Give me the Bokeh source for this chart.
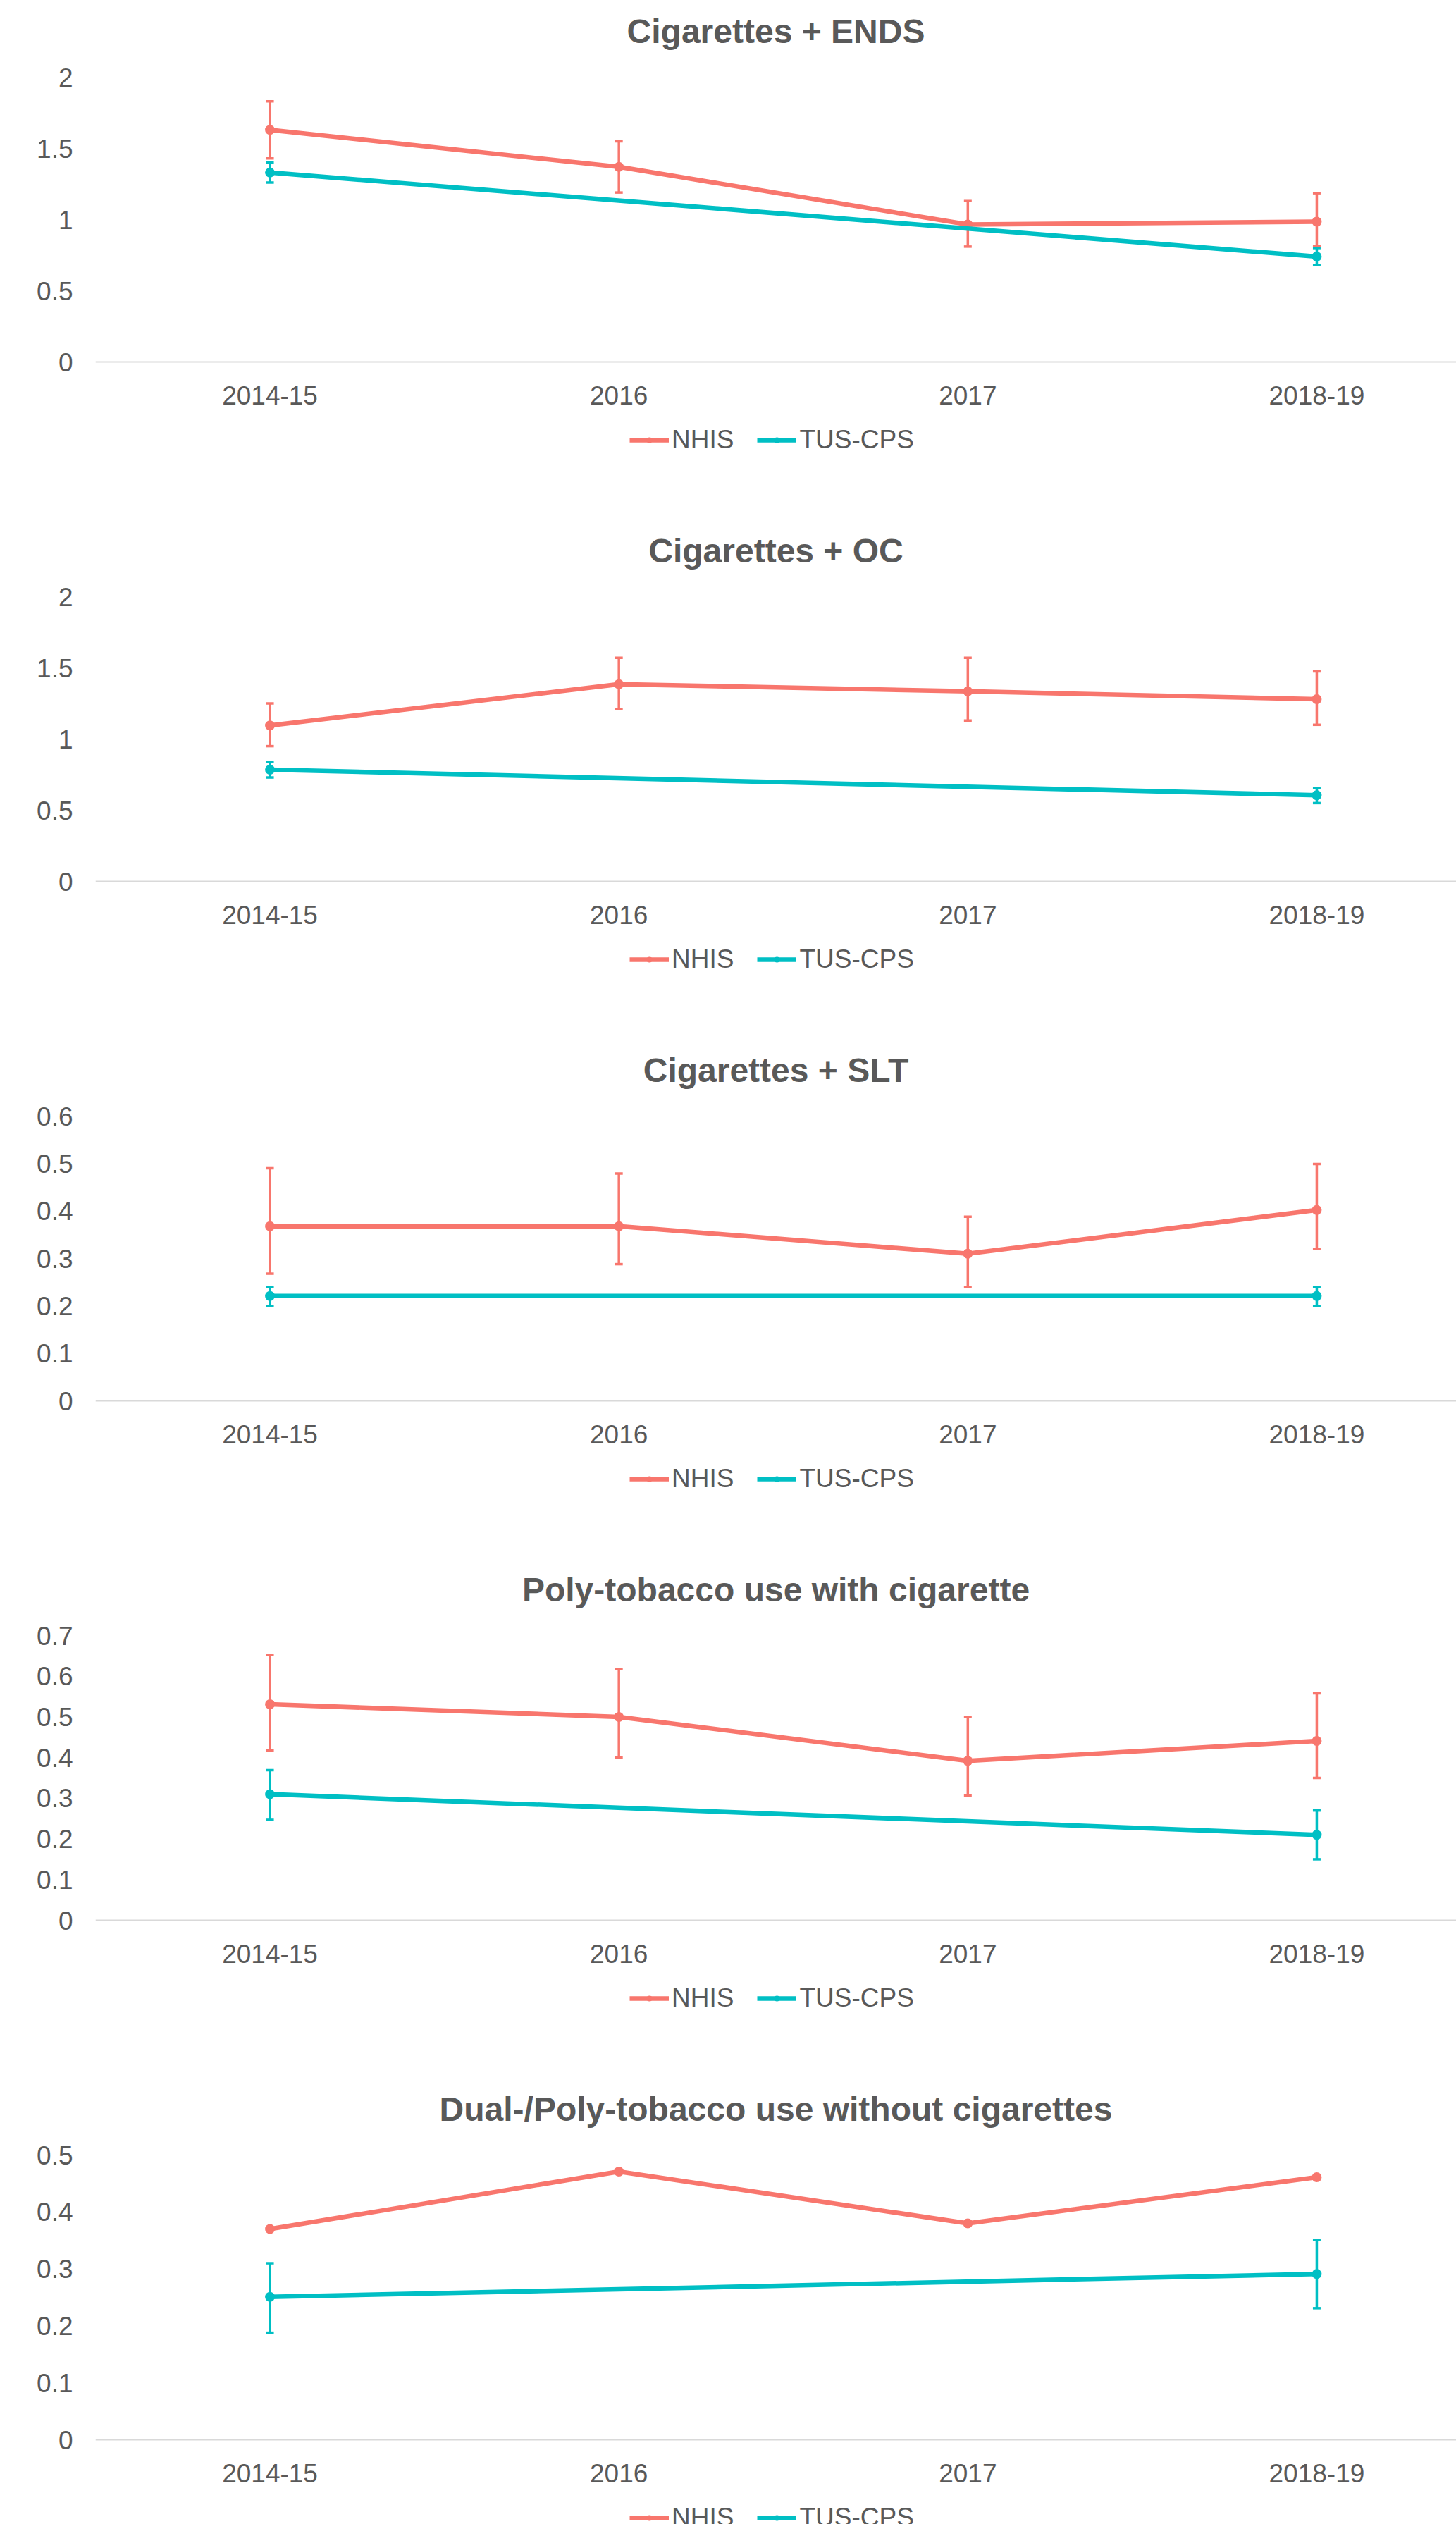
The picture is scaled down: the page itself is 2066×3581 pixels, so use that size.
from bokeh.plotting import figure
from bokeh.models import (Range1d, FixedTicker, ColumnDataSource, Whisker, TeeHead,
                          Legend, LegendItem)
from bokeh.layouts import column
from bokeh.embed import file_html
from bokeh.resources import INLINE

# ---------------- data ----------------
categories = ["2014-15", "2016", "2017", "2018-19"]
tus_categories = ["2014-15", "2018-19"]
series_names = ["NHIS", "TUS-CPS"]

titles = [
    "Cigarettes + ENDS",
    "Cigarettes + OC",
    "Cigarettes + SLT",
    "Poly-tobacco use with cigarette",
    "Dual-/Poly-tobacco use without cigarettes",
]

# Cigarettes + ENDS
ticks_ends = [0, 0.5, 1, 1.5, 2]
nhis_ends = [1.63, 1.37, 0.965, 0.985]
nhis_ends_lo = [1.43, 1.19, 0.81, 0.815]
nhis_ends_hi = [1.83, 1.55, 1.13, 1.185]
tus_ends = [1.33, 0.74]
tus_ends_lo = [1.26, 0.68]
tus_ends_hi = [1.40, 0.80]

# Cigarettes + OC
ticks_oc = [0, 0.5, 1, 1.5, 2]
nhis_oc = [1.095, 1.385, 1.335, 1.28]
nhis_oc_lo = [0.95, 1.21, 1.13, 1.10]
nhis_oc_hi = [1.25, 1.57, 1.57, 1.475]
tus_oc = [0.785, 0.605]
tus_oc_lo = [0.73, 0.55]
tus_oc_hi = [0.84, 0.655]

# Cigarettes + SLT
ticks_slt = [0, 0.1, 0.2, 0.3, 0.4, 0.5, 0.6]
nhis_slt = [0.368, 0.368, 0.31, 0.402]
nhis_slt_lo = [0.268, 0.288, 0.24, 0.32]
nhis_slt_hi = [0.49, 0.479, 0.388, 0.499]
tus_slt = [0.221, 0.221]
tus_slt_lo = [0.20, 0.20]
tus_slt_hi = [0.24, 0.24]

# Poly-tobacco use with cigarette
ticks_poly = [0, 0.1, 0.2, 0.3, 0.4, 0.5, 0.6, 0.7]
nhis_poly = [0.531, 0.50, 0.392, 0.441]
nhis_poly_lo = [0.418, 0.40, 0.307, 0.35]
nhis_poly_hi = [0.652, 0.618, 0.50, 0.558]
tus_poly = [0.31, 0.21]
tus_poly_lo = [0.247, 0.15]
tus_poly_hi = [0.369, 0.27]

# Dual-/Poly-tobacco use without cigarettes
ticks_nocig = [0, 0.1, 0.2, 0.3, 0.4, 0.5]
nhis_nocig = [0.37, 0.471, 0.38, 0.461]
tus_nocig = [0.251, 0.291]
tus_nocig_lo = [0.188, 0.231]
tus_nocig_hi = [0.31, 0.351]

# ---------------- style / layout ----------------
NHIS_COLOR = "#F8766D"
TUS_COLOR = "#00BFC4"
TEXT_COLOR = "#595959"
FONT = "Liberation Sans"

FIG_W = 2066
PANEL_H = 737
TOTAL_H = 3581
FRAME_TOP = 75      # px from panel top where the plotting frame starts
TOP_TICK_Y = 109    # px from panel top of the highest y tick
ZERO_Y = 513        # px from panel top of the zero baseline
LEGEND_MID = 624    # px from panel top of the legend's middle

LINE_W = 6.5
MARKER_SIZE = 14
ERR_W = 3.5


def add_errors(p, x, lo, hi, color):
    src = ColumnDataSource(dict(x=x, lo=lo, hi=hi))
    p.add_layout(Whisker(source=src, base="x", lower="lo", upper="hi",
                         line_color=color, line_width=ERR_W,
                         upper_head=TeeHead(size=11, line_color=color, line_width=ERR_W),
                         lower_head=TeeHead(size=11, line_color=color, line_width=ERR_W)))


def make_panel(title, yticks, nhis, nhis_lo, nhis_hi, tus, tus_lo, tus_hi, height):
    ymax = yticks[-1]
    k = (ZERO_Y - TOP_TICK_Y) / ymax          # px per data unit
    y_end = ymax + (TOP_TICK_Y - FRAME_TOP) / k
    y_start = -(height - ZERO_Y) / k
    p = figure(width=FIG_W, height=height, output_backend="svg", toolbar_location=None,
               x_range=Range1d(-0.5, 3.4), y_range=Range1d(y_start, y_end),
               min_border_left=135, min_border_right=0, min_border_top=FRAME_TOP,
               min_border_bottom=0)
    p.outline_line_color = None
    p.background_fill_color = "white"
    p.border_fill_color = "white"
    p.xgrid.visible = False
    p.ygrid.visible = False

    # title
    p.title.text = title
    p.title.text_font = FONT
    p.title.text_font_size = "48px"
    p.title.text_font_style = "bold"
    p.title.text_color = TEXT_COLOR
    p.title.align = "center"
    p.title.standoff = 10

    # y axis
    p.yaxis.ticker = FixedTicker(ticks=yticks)
    p.yaxis.major_label_overrides = {t: f"{t:g}" for t in yticks}
    p.yaxis.axis_line_color = None
    p.yaxis.major_tick_line_color = None
    p.yaxis.minor_tick_line_color = None
    p.yaxis.major_tick_out = 0
    p.yaxis.major_label_standoff = 32
    p.yaxis.major_label_text_font = FONT
    p.yaxis.major_label_text_font_size = "37px"
    p.yaxis.major_label_text_color = TEXT_COLOR

    # x axis (category axis drawn numerically), sitting on the zero line
    p.xaxis.fixed_location = 0
    p.xaxis.ticker = FixedTicker(ticks=list(range(len(categories))))
    p.xaxis.major_label_overrides = {i: c for i, c in enumerate(categories)}
    p.xaxis.axis_line_color = "#D9D9D9"
    p.xaxis.axis_line_width = 2
    p.xaxis.major_tick_line_color = None
    p.xaxis.minor_tick_line_color = None
    p.xaxis.major_tick_out = 0
    p.xaxis.major_label_standoff = 34
    p.xaxis.major_label_text_font = FONT
    p.xaxis.major_label_text_font_size = "37px"
    p.xaxis.major_label_text_color = TEXT_COLOR

    # NHIS
    nx = [categories.index(c) for c in categories]
    nsrc = ColumnDataSource(dict(x=nx, y=nhis))
    if nhis_lo is not None:
        add_errors(p, nx, nhis_lo, nhis_hi, NHIS_COLOR)
    nl = p.line("x", "y", source=nsrc, line_color=NHIS_COLOR, line_width=LINE_W)
    ns = p.scatter("x", "y", source=nsrc, size=MARKER_SIZE, fill_color=NHIS_COLOR, line_color=None)

    # TUS-CPS
    tx = [categories.index(c) for c in tus_categories]
    tsrc = ColumnDataSource(dict(x=tx, y=tus))
    add_errors(p, tx, tus_lo, tus_hi, TUS_COLOR)
    tl = p.line("x", "y", source=tsrc, line_color=TUS_COLOR, line_width=LINE_W)
    ts = p.scatter("x", "y", source=tsrc, size=MARKER_SIZE, fill_color=TUS_COLOR, line_color=None)

    legend_h = 42
    legend = Legend(items=[LegendItem(label=series_names[0], renderers=[nl, ns]),
                           LegendItem(label=series_names[1], renderers=[tl, ts])],
                    location=(758, height - LEGEND_MID - legend_h // 2),
                    orientation="horizontal",
                    label_text_font=FONT, label_text_font_size="37px",
                    label_text_color=TEXT_COLOR, glyph_width=56, glyph_height=20,
                    label_standoff=4, spacing=33, padding=0, margin=0,
                    border_line_color=None, background_fill_alpha=0)
    p.add_layout(legend)
    return p


panels = [
    (titles[0], ticks_ends, nhis_ends, nhis_ends_lo, nhis_ends_hi, tus_ends, tus_ends_lo, tus_ends_hi),
    (titles[1], ticks_oc, nhis_oc, nhis_oc_lo, nhis_oc_hi, tus_oc, tus_oc_lo, tus_oc_hi),
    (titles[2], ticks_slt, nhis_slt, nhis_slt_lo, nhis_slt_hi, tus_slt, tus_slt_lo, tus_slt_hi),
    (titles[3], ticks_poly, nhis_poly, nhis_poly_lo, nhis_poly_hi, tus_poly, tus_poly_lo, tus_poly_hi),
    (titles[4], ticks_nocig, nhis_nocig, None, None, tus_nocig, tus_nocig_lo, tus_nocig_hi),
]

figs = []
for i, args in enumerate(panels):
    last = i == len(panels) - 1
    h = TOTAL_H - PANEL_H * (len(panels) - 1) if last else PANEL_H
    figs.append(make_panel(*args, height=h))

layout = column(*figs, spacing=0)
open("out.html", "w").write(file_html(layout, INLINE))
